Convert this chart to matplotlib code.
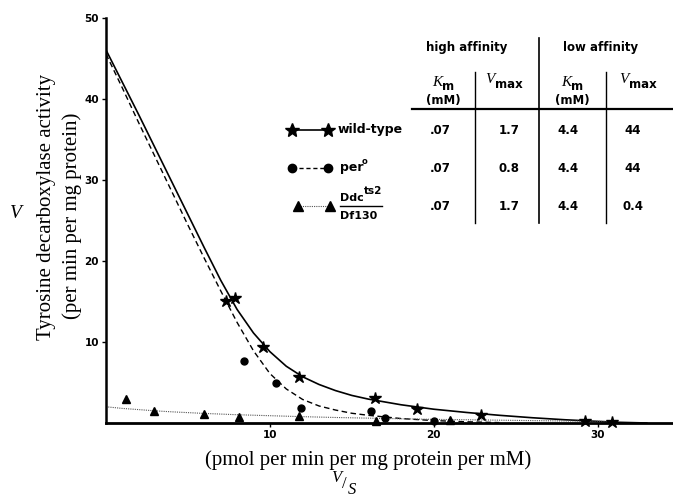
import matplotlib
matplotlib.use("Agg")
import matplotlib.pyplot as plt
from matplotlib.lines import Line2D

# measured points, V/S (x) against V (y)
wt_x = [7.35, 7.9, 9.6, 11.8, 16.4, 19.0, 22.9, 29.2, 30.9]
wt_y = [15.1, 15.4, 9.4, 5.7, 3.1, 1.75, 1.0, 0.25, 0.12]
per_x = [8.4, 10.4, 11.9, 16.2, 17.0, 20.0]
per_y = [7.7, 4.9, 1.8, 1.5, 0.6, 0.2]
ddc_x = [1.2, 2.95, 6.0, 8.1, 11.8, 16.5, 21.0]
ddc_y = [2.96, 1.5, 1.07, 0.7, 0.9, 0.3, 0.4]

# fitted curves
wt_fit_x = [0, 1, 2, 3, 4, 5, 6, 7, 8, 9, 10, 11, 12, 13, 14, 15, 16, 18, 20, 22, 24, 26, 28, 30, 31, 33]
wt_fit_y = [46.0, 42.0, 38.0, 33.9, 29.8, 25.7, 21.6, 17.6, 14.0, 11.1, 8.8, 7.0, 5.7, 4.75, 4.0, 3.4, 2.95, 2.25, 1.7, 1.3, 0.95, 0.65, 0.4, 0.2, 0.1, 0.0]
per_fit_x = [0, 1, 2, 3, 4, 5, 6, 7, 8, 9, 10, 11, 12, 13, 14, 15, 16, 18, 20, 22, 24]
per_fit_y = [45.5, 41.3, 37.0, 32.8, 28.6, 24.4, 20.3, 16.3, 12.4, 8.9, 6.1, 4.2, 2.9, 2.1, 1.6, 1.2, 0.95, 0.55, 0.3, 0.15, 0.05]
ddc_fit_x = [0, 1, 2, 3, 4, 6, 8, 10, 12, 14, 16, 18, 20, 22, 25, 28, 31]
ddc_fit_y = [2.0, 1.8, 1.65, 1.5, 1.38, 1.18, 1.02, 0.9, 0.78, 0.68, 0.6, 0.52, 0.45, 0.4, 0.32, 0.25, 0.2]

x_ticks = [10, 20, 30]
y_ticks = [10, 20, 30, 40, 50]

# table of fitted constants
hi_km = [".07", ".07", ".07"]
hi_vmax = ["1.7", "0.8", "1.7"]
lo_km = ["4.4", "4.4", "4.4"]
lo_vmax = ["44", "44", "0.4"]

W, H = 673, 499
sans = "DejaVu Sans"
serif = "Liberation Serif"

fig = plt.figure(figsize=(W / 100, H / 100), dpi=100)
ax = fig.add_axes([106 / W, 1 - 423 / H, 1 - 106 / W, (423 - 17.5) / H])

ax.plot(wt_fit_x, wt_fit_y, color="black", lw=1.2)
ax.plot(per_fit_x, per_fit_y, color="black", lw=1.0, ls=(0, (4, 2.5)))
ax.plot(ddc_fit_x, ddc_fit_y, color="#555555", lw=0.8, ls=(0, (1, 1)))
ax.plot(wt_x, wt_y, "*", color="black", ms=9, clip_on=False)
ax.plot(per_x, per_y, "o", color="black", ms=5, clip_on=False)
ax.plot(ddc_x, ddc_y, "^", color="black", ms=5.5, clip_on=False)

ax.set_xlim(0, 34.6)
ax.set_ylim(0, 50)
ax.set_xticks(x_ticks)
ax.set_yticks(y_ticks)
ax.set_xticklabels([str(t) for t in x_ticks], fontsize=7.5, fontweight="bold", family=sans)
ax.set_yticklabels([str(t) for t in y_ticks], fontsize=7.5, fontweight="bold", family=sans)
ax.tick_params(direction="out", length=3, width=1, pad=2)
for s in ["top", "right"]:
    ax.spines[s].set_visible(False)
ax.spines["left"].set_linewidth(1.8)
ax.spines["bottom"].set_linewidth(2.0)
ax.patch.set_alpha(0)

# overlay in pixel coordinates for labels and the table
ov = fig.add_axes([0, 0, 1, 1])
ov.set_xlim(0, W)
ov.set_ylim(H, 0)
ov.axis("off")
ov.patch.set_alpha(0)

ov.text(47, 207, "Tyrosine decarboxylase activity", rotation=90, ha="center", va="center",
        family=serif, fontsize=15)
ov.text(72, 216, "(per min per mg protein)", rotation=90, ha="center", va="center",
        family=serif, fontsize=15)
ov.text(16, 213, "V", style="italic", ha="center", va="center", family=serif, fontsize=14)
ov.text(368, 460, "(pmol per min per mg protein per mM)", ha="center", va="center",
        family=serif, fontsize=15)
ov.text(336, 478, "V", style="italic", ha="center", va="center", family=serif, fontsize=12)
ov.text(344, 484, "/", ha="center", va="center", family=serif, fontsize=12)
ov.text(352, 490, "S", style="italic", ha="center", va="center", family=serif, fontsize=12)

# table rules
ov.add_line(Line2D([539, 539], [38, 223], color="black", lw=1.2))
ov.add_line(Line2D([475, 475], [72, 223], color="black", lw=1.0))
ov.add_line(Line2D([606, 606], [72, 223], color="black", lw=1.0))
ov.add_line(Line2D([412, 673], [109, 109], color="black", lw=1.6))

tb = dict(fontsize=8.5, fontweight="bold", family=sans, va="center")
ov.text(467, 47, "high affinity", ha="center", **tb)
ov.text(601, 47, "low affinity", ha="center", **tb)
for cx in [443, 572]:
    ov.text(cx - 1, 82, "K", style="italic", family=serif, fontsize=11, ha="right", va="center")
    ov.text(cx - 1, 86, "m", ha="left", **tb)
    ov.text(cx, 100, "(mM)", ha="center", **tb)
for cx in [507, 641]:
    ov.text(cx - 12, 79, "V", style="italic", family=serif, fontsize=11, ha="right", va="center")
    ov.text(cx - 12, 84, "max", ha="left", **tb)

row_y = [130, 168, 206]
tv = dict(fontsize=8.5, fontweight="bold", family=sans, va="center", ha="center")
for i, y in enumerate(row_y):
    ov.text(440, y, hi_km[i], **tv)
    ov.text(509, y, hi_vmax[i], **tv)
    ov.text(568, y, lo_km[i], **tv)
    ov.text(633, y, lo_vmax[i], **tv)

# legend keys
ov.add_line(Line2D([292, 328], [130, 130], color="black", lw=1.2, marker="*", ms=10))
ov.add_line(Line2D([292, 328], [168, 168], color="black", lw=1.0, ls=(0, (3, 2)), marker="o", ms=6))
ov.add_line(Line2D([298, 330], [206, 206], color="#555555", lw=0.8, ls=(0, (1, 1))))
ov.plot([298, 330], [206, 206], "^", color="black", ms=6.5)
ov.text(338, 130, "wild-type", ha="left", va="center", fontsize=9, fontweight="bold", family=sans)
ov.text(340, 168, "per", ha="left", va="center", fontsize=9, fontweight="bold", family=sans)
ov.text(362, 162, "o", ha="left", va="center", fontsize=6, fontweight="bold", family=sans)
ov.text(340, 198, "Ddc", ha="left", va="center", fontsize=8, fontweight="bold", family=sans)
ov.text(364, 191, "ts2", ha="left", va="center", fontsize=7.5, fontweight="bold", family=sans)
ov.add_line(Line2D([340, 382], [206, 206], color="black", lw=1.0))
ov.text(340, 216, "Df130", ha="left", va="center", fontsize=8, fontweight="bold", family=sans)

fig.savefig("out.png", dpi=100)
